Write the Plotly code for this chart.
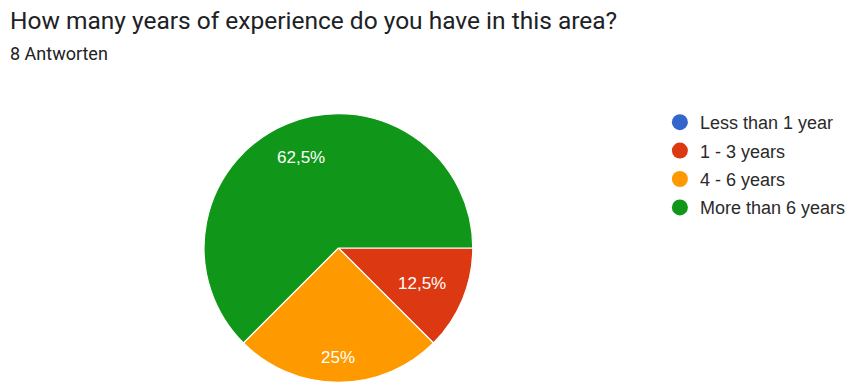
import math
import plotly.graph_objects as go

# Survey answers
categories = ["Less than 1 year", "1 - 3 years", "4 - 6 years", "More than 6 years"]
counts = [0, 1, 2, 5]
colors = ["#3366cc", "#dc3912", "#ff9900", "#109618"]

title_text = "How many years of experience do you have in this area?"
subtitle_text = "8 Antworten"

W, H = 851, 383

# Pie geometry in pixels (margins are zero, so paper == canvas)
PIE_CX, PIE_CY, PIE_R = 340.0, 248.0, 135.0
LABEL_FONT = 17
LABEL_RING = 0.86  # outer corner of each slice label sits on this fraction of the radius

total = sum(counts)


def pct_label(c):
    p = 100.0 * c / total
    s = ("%.1f" % p).rstrip("0").rstrip(".")
    return s.replace(".", ",") + "%"


labels_txt = [pct_label(c) for c in counts]

# Arial advance widths (em) for the characters used in the slice labels
ADV = {",": 0.278, "%": 0.889, ".": 0.278}


def text_width(s, size):
    return sum(ADV.get(ch, 0.556) for ch in s) * size


fig = go.Figure()

fig.add_trace(go.Pie(
    labels=categories,
    values=counts,
    text=labels_txt,
    textinfo="none",
    marker=dict(colors=colors, line=dict(color="white", width=1.2)),
    sort=False,
    direction="clockwise",
    rotation=90,
    showlegend=False,
    hoverinfo="label+text",
    domain=dict(x=[(PIE_CX - PIE_R) / W, (PIE_CX + PIE_R) / W],
                y=[(H - PIE_CY - PIE_R) / H, (H - PIE_CY + PIE_R) / H]),
))

# Legend entries with round markers
for name, col in zip(categories, colors):
    fig.add_trace(go.Scatter(
        x=[None], y=[None], mode="markers", name=name, legendgroup=name,
        marker=dict(symbol="circle", size=16, color=col),
        hoverinfo="skip",
    ))

annotations = [
    dict(text=title_text, x=8 / W, y=1 - 4 / H, xref="paper", yref="paper",
         xanchor="left", yanchor="top", showarrow=False,
         font=dict(family="Roboto, sans-serif", size=24.5, color="#202124")),
    dict(text=subtitle_text, x=8 / W, y=1 - 41 / H, xref="paper", yref="paper",
         xanchor="left", yanchor="top", showarrow=False,
         font=dict(family="Roboto, sans-serif", size=18, color="#202124")),
]

# Percentage labels placed along each slice's middle angle
acc = 0.0
label_ring = LABEL_RING * PIE_R
for cnt, txt in zip(counts, labels_txt):
    frac = cnt / total
    if cnt == 0:
        continue
    mid = (acc + frac / 2) * 2 * math.pi  # clockwise from 3 o'clock (screen y down)
    acc += frac
    ux, uy = math.cos(mid), math.sin(mid)
    hw, hh = text_width(txt, LABEL_FONT) / 2, 0.38 * LABEL_FONT
    cxo = math.copysign(hw, ux) if abs(ux) > 1e-9 else hw
    cyo = math.copysign(hh, uy) if abs(uy) > 1e-9 else hh
    udc = ux * cxo + uy * cyo
    d = -udc + math.sqrt(udc * udc - (cxo ** 2 + cyo ** 2) + label_ring ** 2)
    px, py = PIE_CX + d * ux, PIE_CY + d * uy
    annotations.append(dict(
        text=txt, x=px / W, y=1 - py / H, xref="paper", yref="paper",
        xanchor="center", yanchor="middle", showarrow=False, yshift=-1,
        font=dict(family="Arial, Liberation Sans, sans-serif", size=LABEL_FONT, color="white"),
    ))

fig.update_layout(
    width=W, height=H,
    margin=dict(l=0, r=0, t=0, b=0),
    paper_bgcolor="white", plot_bgcolor="white",
    xaxis=dict(visible=False), yaxis=dict(visible=False),
    legend=dict(
        x=663 / W, y=1 - 104 / H, xanchor="left", yanchor="top",
        font=dict(family="Arial, Liberation Sans, sans-serif", size=18, color="#2a2a2a"),
        tracegroupgap=2, itemsizing="trace", bgcolor="rgba(0,0,0,0)",
    ),
    annotations=annotations,
)

fig.write_html("out.html")
